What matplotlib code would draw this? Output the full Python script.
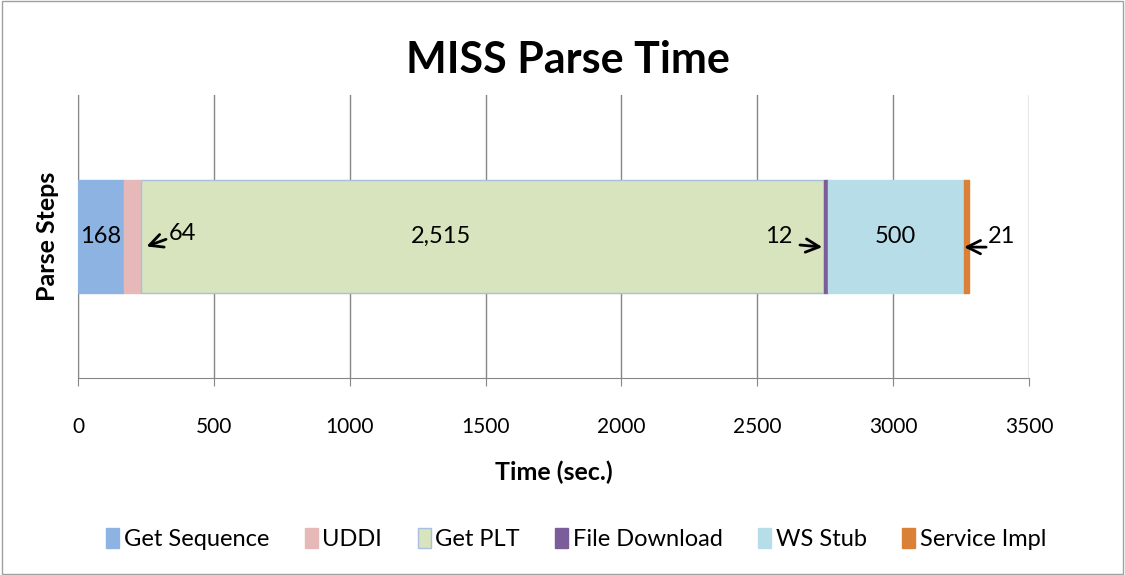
import matplotlib.pyplot as plt
import numpy as np

plt.rcParams['font.family'] = ['Lato', 'DejaVu Sans']

steps = ['Get Sequence', 'UDDI', 'Get PLT', 'File Download', 'WS Stub', 'Service Impl']
times = [168, 64, 2515, 12, 500, 21]
colors = ['#8DB3E2', '#E6B9B8', '#D7E4BD', '#7B5E99', '#B7DEE8', '#DA8137']
edges = ['#8DB3E2', '#E6B9B8', '#A8BFE0', '#7B5E99', '#B7DEE8', '#DA8137']
xticks = [0, 500, 1000, 1500, 2000, 2500, 3000, 3500]

fig = plt.figure(figsize=(11.25, 5.75), dpi=100)
fig.patches.append(plt.Rectangle((0.002, 0.002), 0.996, 0.996, transform=fig.transFigure,
                                 fill=False, edgecolor='#A0A0A0', linewidth=1))
ax = fig.add_axes([0.0693, 0.3426, 0.8454, 0.4922])

left = 0
starts = []
for name, t, c, e in zip(steps, times, colors, edges):
    ax.barh(0, t, left=left, height=0.8, color=c, edgecolor=e, linewidth=1, label=name, zorder=3)
    starts.append(left)
    left += t

# labels inside big segments
ax.text(starts[0] + times[0] / 2, 0, '{:,}'.format(times[0]), ha='center', va='center', fontsize=17, zorder=4)
ax.text(1335, 0, '{:,}'.format(times[2]), ha='center', va='center', fontsize=17, zorder=4)
ax.text(starts[4] + times[4] / 2, 0, '{:,}'.format(times[4]), ha='center', va='center', fontsize=17, zorder=4)

# callouts for thin segments
arw = dict(arrowstyle='->', color='black', lw=2, mutation_scale=24, shrinkA=0, shrinkB=0)
ax.text(333, 0.02, '{:,}'.format(times[1]), fontsize=17, va='center', ha='left', zorder=5)
ax.annotate('', xy=(starts[2] + 20, -0.07), xytext=(324, -0.02), arrowprops=arw, zorder=5)
ax.text(2628, 0.0, '{:,}'.format(times[3]), fontsize=17, va='center', ha='right', zorder=5)
ax.annotate('', xy=(starts[3] - 8, -0.075), xytext=(2657, -0.06), arrowprops=arw, zorder=5)
ax.text(3350, 0.0, '{:,}'.format(times[5]), fontsize=17, va='center', ha='left', zorder=5)
ax.annotate('', xy=(starts[5] + 2, -0.075), xytext=(3342, -0.075), arrowprops=arw, zorder=5)

ax.set_xlim(0, 3500)
ax.set_ylim(-1, 1)
ax.set_xticks(xticks)
ax.set_xticklabels([str(x) for x in xticks], fontsize=15)
ax.set_yticks([])
ax.tick_params(axis='x', length=6, color='#868686', pad=22)
ax.grid(axis='x', color='#868686', linewidth=1, zorder=0)
for s in ['top', 'right']:
    ax.spines[s].set_visible(False)
ax.spines['left'].set_color('#868686')
ax.spines['bottom'].set_color('#868686')

ax.set_xlabel('Time (sec.)', fontsize=18, fontweight='bold', labelpad=17)
ax.set_ylabel('Parse Steps', fontsize=18, fontweight='bold', labelpad=14)
fig.text(0.505, 0.895, 'MISS Parse Time', ha='center', va='center', fontsize=31, fontweight='bold')

ax.legend(loc='center', bbox_to_anchor=(0.524, -0.57), ncol=6, frameon=False, fontsize=17,
          handlelength=0.55, handleheight=0.9, handletextpad=0.2, columnspacing=1.5)

fig.savefig('out.png', dpi=100)
